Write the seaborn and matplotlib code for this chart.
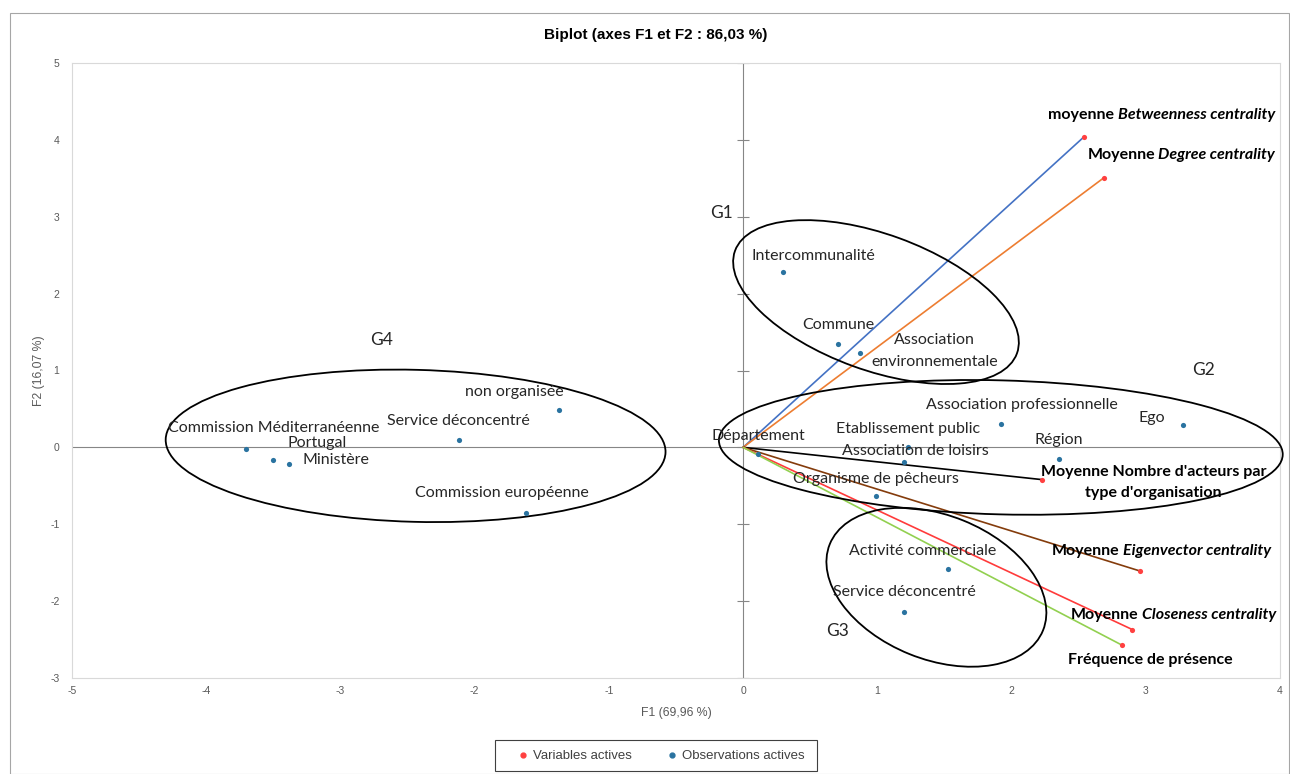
import numpy as np
import pandas as pd
import matplotlib
matplotlib.use("Agg")
import matplotlib.pyplot as plt
import seaborn as sns
from matplotlib.patches import Ellipse, Rectangle
from matplotlib.lines import Line2D
from matplotlib.transforms import ScaledTranslation

# Observations actives (coordonnées F1, F2)
obs_names = [
    "Intercommunalité", "Commune", "Association\nenvironnementale",
    "Association professionnelle", "Ego", "Etablissement public", "Région",
    "Association de loisirs", "Département", "Organisme de pêcheurs",
    "Activité commerciale", "Service déconcentré", "non organisée",
    "Service déconcentré", "Commission Méditerranéenne", "Portugal",
    "Ministère", "Commission européenne",
]
obs_f1 = [0.30, 0.71, 0.87, 1.92, 3.28, 1.23, 2.35, 1.20, 0.11, 0.99,
          1.53, 1.20, -1.37, -2.12, -3.70, -3.50, -3.38, -1.62]
obs_f2 = [2.28, 1.34, 1.23, 0.31, 0.29, 0.01, -0.15, -0.19, -0.08, -0.63,
          -1.58, -2.14, 0.49, 0.09, -0.02, -0.16, -0.21, -0.85]

# Variables actives
var_prefix = ["moyenne", "Moyenne", "Moyenne Nombre d'acteurs par\ntype d'organisation",
              "Moyenne", "Moyenne", "Fréquence de présence"]
var_italic = ["Betweenness centrality", "Degree centrality", "",
              "Eigenvector centrality", "Closeness centrality", ""]
var_f1 = [2.54, 2.69, 2.23, 2.96, 2.90, 2.82]
var_f2 = [4.04, 3.51, -0.42, -1.61, -2.37, -2.57]
var_colors = ["#4472C4", "#ED7D31", "#000000", "#843C0C", "#FF3B3B", "#92D050"]

groups = ["G1", "G2", "G3", "G4"]

xticks = list(range(-5, 5))
yticks = list(range(-3, 6))

# --- layout (pixels on the 1290x774 canvas) ---
W, H = 1290, 774
obs_label_off = [(30, -16), (0, -19), (75, -2), (21, -19), (-32, -7), (0, -18),
                 (0, -19), (11, -11), (0, -18), (0, -17), (-26, -18), (0, -20),
                 (-45, -18), (0, -19), (27, -21), (44, -17), (46, -4), (-24, -20)]
var_label_off = [(191, -22), (171, -23), (224, 3), (131, -20), (144, -15), (111, 15)]
# ellipse: centre (data), semi-axes (px), angle (deg)
ell_center = [(0.99, 1.89), (1.92, 0.0), (1.44, -1.82), (-2.44, 0.02)]
ell_axes = [(150, 68), (282, 67), (115, 72), (250, 76)]
ell_angle = [-20, -1.5, -22, -1.5]
group_pos = [(-0.16, 3.05), (3.43, 1.01), (0.70, -2.39), (-2.69, 1.40)]

sns.set_theme(style="white")
plt.rcParams["font.family"] = ["Liberation Sans", "DejaVu Sans"]
plt.rcParams["axes.unicode_minus"] = False
LBL = ["Lato", "DejaVu Sans"]
FS = 11.5

fig = plt.figure(figsize=(W / 100, H / 100), dpi=100)
ax = fig.add_axes([72 / W, 1 - 678 / H, (1280 - 72) / W, (678 - 63) / H])
ax.set_xlim(-5, 4)
ax.set_ylim(-3, 5)

# axes through the origin
ax.axhline(0, color="#868686", lw=0.8, zorder=1)
ax.axvline(0, color="#868686", lw=0.8, zorder=1)
ax.plot(np.zeros(len(yticks)), yticks, ls="none", marker="_", ms=9, mew=0.8,
        color="#868686", zorder=1)

# variable vectors
for f1, f2, c in zip(var_f1, var_f2, var_colors):
    ax.plot([0, f1], [0, f2], color=c, lw=1.2, zorder=2)

obs_df = pd.DataFrame({"F1": obs_f1, "F2": obs_f2, "type": "Observations actives"})
var_df = pd.DataFrame({"F1": var_f1, "F2": var_f2, "type": "Variables actives"})
sns.scatterplot(data=obs_df, x="F1", y="F2", color="#2A73A0", s=14, linewidth=0,
                ax=ax, zorder=4, legend=False)
sns.scatterplot(data=var_df, x="F1", y="F2", color="#FF4040", s=14, linewidth=0,
                ax=ax, zorder=4, legend=False)

# observation labels
for name, f1, f2, (dx, dy) in zip(obs_names, obs_f1, obs_f2, obs_label_off):
    ax.annotate(name, (f1, f2), xytext=(dx * 0.72, -dy * 0.72),
                textcoords="offset points", ha="center", va="center",
                multialignment="center", fontsize=FS, family=LBL,
                color="#262626", zorder=5, annotation_clip=False,
                linespacing=1.75)

# variable labels (bold, partly italic)
for pre, it, f1, f2, (dx, dy) in zip(var_prefix, var_italic, var_f1, var_f2,
                                     var_label_off):
    if it:
        t = ax.annotate(it, (f1, f2), xytext=(dx * 0.72, -dy * 0.72),
                        textcoords="offset points", ha="right", va="center",
                        fontsize=FS, family=LBL, fontweight="bold",
                        fontstyle="italic", color="#000000", zorder=5,
                        annotation_clip=False)
        ax.annotate(pre, (0, 0), xycoords=t, xytext=(-2.5, 0),
                    textcoords="offset points", ha="right", va="bottom",
                    fontsize=FS, family=LBL, fontweight="bold",
                    color="#000000", zorder=5, annotation_clip=False)
    else:
        ax.annotate(pre, (f1, f2), xytext=(dx * 0.72, -dy * 0.72),
                    textcoords="offset points", ha="right", va="center",
                    multialignment="center", fontsize=FS, family=LBL,
                    fontweight="bold", color="#000000", zorder=5,
                    annotation_clip=False, linespacing=1.65)

# group ellipses
for (cx, cy), (a, b), ang in zip(ell_center, ell_axes, ell_angle):
    e = Ellipse((0, 0), 2 * a, 2 * b, angle=ang, fill=False, ec="black", lw=1.3,
                transform=ScaledTranslation(cx, cy, ax.transData), clip_on=False,
                zorder=3)
    ax.add_patch(e)
for g, (gx, gy) in zip(groups, group_pos):
    ax.text(gx, gy, g, ha="center", va="center", fontsize=12.5, family=LBL,
            color="#262626")

# ticks, spines, labels
ax.set_xticks(xticks)
ax.set_yticks(yticks)
ax.tick_params(length=0, labelsize=7.5, colors="#595959")
ax.tick_params(axis="y", pad=9)
ax.tick_params(axis="x", pad=6)
for s in ax.spines.values():
    s.set_color("#D9D9D9")
    s.set_linewidth(0.8)
ax.set_xlabel("F1 (69,96 %)", fontsize=8.8, color="#595959", labelpad=8)
ax.set_ylabel("F2 (16,07 %)", fontsize=8.8, color="#595959", labelpad=4)

fig.text(656 / W, 1 - 35 / H, "Biplot (axes F1 et F2 : 86,03 %)", ha="center",
         va="center", fontsize=11, fontweight="bold", color="#000000")

# legend
handles = [Line2D([], [], ls="none", marker="o", ms=3.5, color="#FF4040"),
           Line2D([], [], ls="none", marker="o", ms=3.5, color="#2A73A0")]
fig.legend(handles, ["Variables actives", "Observations actives"], loc="center",
           bbox_to_anchor=(662 / W, 1 - 756 / H), ncol=2, frameon=False,
           fontsize=9.5, handlelength=0.5, handletextpad=0.5, columnspacing=2.8,
           labelcolor="#404040")
fig.add_artist(Rectangle((495 / W, 1 - 771 / H), 322 / W, 31 / H, fill=False,
                         ec="#404040", lw=0.8, transform=fig.transFigure))
fig.add_artist(Rectangle((10 / W, 0.5 / H), (1289 - 10) / W, (773 - 12) / H,
                         fill=False, ec="#A6A6A6", lw=0.8, transform=fig.transFigure))

fig.savefig("out.png", dpi=100)
